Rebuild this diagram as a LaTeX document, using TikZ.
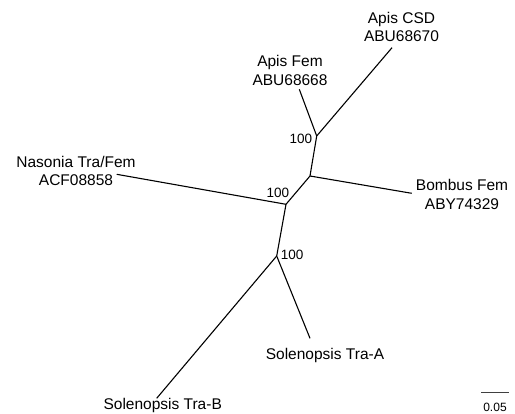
\documentclass[tikz,border=0pt]{standalone}
\usepackage{fontspec}
\setmainfont{Liberation Sans}
\begin{document}
\begin{tikzpicture}[x=1pt,y=-1pt,
  branch/.style={line width=1.1pt,black},
  taxon/.style={inner sep=0pt,align=center,anchor=base,font=\fontsize{15.5}{18.6}\selectfont},
  boot/.style={inner sep=0pt,font=\fontsize{13.5}{16}\selectfont},
  scalebar/.style={line width=1.3pt,black!75}]
\useasboundingbox (0,0) rectangle (515,414);
% tree vertices
\coordinate (nApis) at (316.7,136);
\coordinate (tApisFem) at (299.3,89.3);
\coordinate (tApisCSD) at (392,47.7);
\coordinate (nBombus) at (310,176);
\coordinate (tBombus) at (411.7,193.3);
\coordinate (nCentral) at (286,204.3);
\coordinate (tNasonia) at (116.7,174.3);
\coordinate (nSol) at (276.7,256);
\coordinate (tTraA) at (310,338.3);
\coordinate (tTraB) at (156.7,398.3);
% branches
\draw[branch] (nApis) -- (tApisFem);
\draw[branch] (nApis) -- (tApisCSD);
\draw[branch] (nApis) -- (nBombus);
\draw[branch] (nBombus) -- (tBombus);
\draw[branch] (nBombus) -- (nCentral);
\draw[branch] (nCentral) -- (tNasonia);
\draw[branch] (nCentral) -- (nSol);
\draw[branch] (nSol) -- (tTraA);
\draw[branch] (nSol) -- (tTraB);
% taxon labels (base anchor = baseline of last line)
\node[taxon] (lApisCSD) at (401.5,41.9) {Apis CSD\\ABU68670};
\node[taxon] (lApisFem) at (290,85.3) {Apis Fem\\ABU68668};
\node[taxon] (lNasonia) at (76,185.9) {Nasonia Tra/Fem\\ACF08858};
\node[taxon] (lBombus) at (462,209.3) {Bombus Fem\\ABY74329};
\node[taxon] (lTraA) at (325,360) {Solenopsis Tra-A};
\node[taxon] (lTraB) at (162.7,409.3) {Solenopsis Tra-B};
% bootstrap values
\node[boot,anchor=base east] (bApis) at (312.3,143.3) {100};
\node[boot,anchor=base east] (bCentral) at (289.3,197.3) {100};
\node[boot,anchor=base west] (bSol) at (280.7,260) {100};
% scale bar
\coordinate (sL) at (481.3,392.7);
\coordinate (sR) at (508.7,392.7);
\draw[scalebar] (sL) -- (sR);
\node[inner sep=0pt,anchor=base,font=\fontsize{12}{14}\selectfont] (sLabel) at (495,412) {0.05};
\end{tikzpicture}
\end{document}
